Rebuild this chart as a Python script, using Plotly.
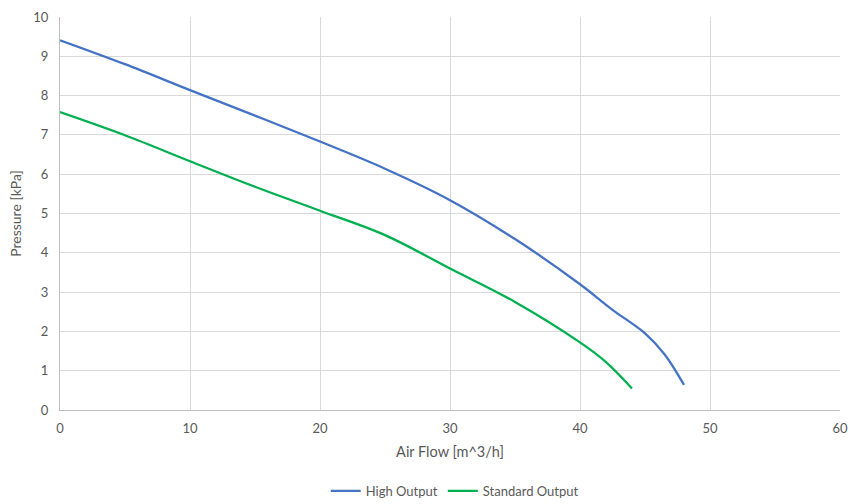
import plotly.graph_objects as go

flow_high = [0, 5, 10, 15, 20, 25, 30, 35, 40, 42.5, 45, 46.5, 48]
press_high = [9.41, 8.8, 8.14, 7.49, 6.83, 6.14, 5.34, 4.35, 3.2, 2.55, 1.95, 1.42, 0.64]
flow_std = [0, 5, 10, 15, 20, 25, 30, 35, 40, 42, 44]
press_std = [7.58, 6.99, 6.33, 5.68, 5.07, 4.45, 3.6, 2.75, 1.72, 1.22, 0.55]

fig = go.Figure()
fig.add_trace(go.Scatter(x=flow_high, y=press_high, mode="lines", name="High Output",
                         line=dict(color="#4472C4", width=2.25, shape="spline", smoothing=1)))
fig.add_trace(go.Scatter(x=flow_std, y=press_std, mode="lines", name="Standard Output",
                         line=dict(color="#00B050", width=2.25, shape="spline", smoothing=1)))

font = dict(family="Lato, Open Sans, sans-serif", size=13, color="#595959")
fig.update_layout(
    width=850, height=504,
    margin=dict(l=60, r=10, t=17, b=94),
    paper_bgcolor="white", plot_bgcolor="white",
    font=font,
    showlegend=True,
    legend=dict(orientation="h", x=0.535, xanchor="center", xref="container",
                y=0.026, yanchor="middle", yref="container", itemwidth=30,
                font=dict(size=13, color="#595959")),
    xaxis=dict(range=[0, 60], dtick=10, showgrid=True, gridcolor="#d9d9d9", gridwidth=1,
               showline=True, linecolor="#bfbfbf", mirror=False, zeroline=False,
               automargin=False, ticks="", ticklabelstandoff=6,
               title=dict(text="Air Flow [m^3/h]", font=dict(size=14.5), standoff=12)),
    yaxis=dict(range=[0, 10], dtick=1, showgrid=True, gridcolor="#d9d9d9", gridwidth=1,
               showline=True, linecolor="#bfbfbf", zeroline=False,
               automargin=False, ticks="", ticklabelstandoff=8,
               title=dict(text="Pressure [kPa]", font=dict(size=14), standoff=8)),
)
fig.write_html("out.html", config={"displayModeBar": False},
               post_script="document.body.style.margin='0';document.body.style.overflow='hidden';")
